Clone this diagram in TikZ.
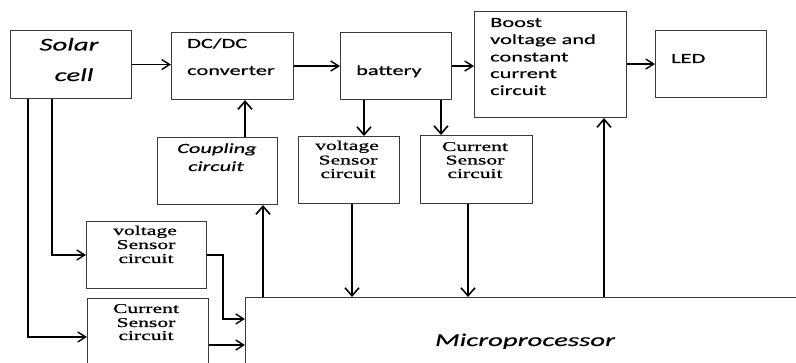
\documentclass[tikz,border=0pt]{standalone}
\usepackage{fontspec}
\usetikzlibrary{arrows.meta}
\newfontfamily\calfont[FakeStretch=1.6,FakeBold=0.4]{Carlito}
\newfontfamily\serfont[FakeStretch=1.6,FakeBold=0.8]{Liberation Serif}
\definecolor{boxc}{HTML}{3A3A3A}
\begin{document}
\begin{tikzpicture}[x=1pt,y=-1pt,
 box/.style={draw=boxc,line width=1.1pt,inner sep=0pt,anchor=north west},
 cal/.style={font=\calfont\fontsize{14}{17}\selectfont,inner sep=0pt},
 calit/.style={font=\calfont\itshape\fontsize{18}{22}\selectfont,inner sep=0pt},
 calits/.style={font=\calfont\itshape\fontsize{14}{17}\selectfont,inner sep=0pt},
 ser/.style={font=\serfont\fontsize{13.5}{14}\selectfont,inner sep=0pt,anchor=base},
 harr/.style={line width=1.7pt,-{Straight Barb[length=8pt,width=10pt,line width=1.4pt]}},
 varr/.style={line width=2.3pt,-{Straight Barb[length=8pt,width=14pt,line width=1.6pt]}},
 marr/.style={line width=1.9pt,line join=miter,-{Straight Barb[length=8pt,width=10pt,line width=1.4pt]}}
]
\useasboundingbox (0,0) rectangle (796,363);
\clip (0,0) rectangle (796,363);
\fill[white] (0,0) rectangle (796,363);
% boxes
\node[box,minimum width=121pt,minimum height=68pt] (solar) at (10,30) {};
\node[box,minimum width=122pt,minimum height=67pt] (dc) at (171,32) {};
\node[box,minimum width=111pt,minimum height=67pt] (bat) at (340,32) {};
\node[box,minimum width=152pt,minimum height=106pt] (boost) at (474,11) {};
\node[box,minimum width=111pt,minimum height=67pt] (led) at (655,30) {};
\node[box,minimum width=120pt,minimum height=67pt] (coup) at (157,137) {};
\node[box,minimum width=101pt,minimum height=67pt] (vs2) at (298,136) {};
\node[box,minimum width=112pt,minimum height=68pt] (cs2) at (420,135) {};
\node[box,minimum width=120pt,minimum height=67pt] (vs1) at (86,221) {};
\node[box,minimum width=121pt,minimum height=102pt] (cs1) at (87,298) {};
\node[box,minimum width=580pt,minimum height=120pt] (micro) at (245,297) {};
% texts
\node[calit,anchor=base] (tsolar) at (69,50.5) {Solar};
\node[calit,anchor=base] (tcell) at (74,81) {cell};
\node[cal,anchor=base west] (tdc1) at (187,48) {DC/DC};
\node[cal,anchor=base west] (tdc2) at (187,75) {converter};
\node[cal,anchor=base west] (tbat) at (356,75) {battery};
\node[cal,anchor=base west] (tb1) at (490,27) {Boost};
\node[cal,anchor=base west] (tb2) at (490,44) {voltage and};
\node[cal,anchor=base west] (tb3) at (490,61.5) {constant};
\node[cal,anchor=base west] (tb4) at (490,78) {current};
\node[cal,anchor=base west] (tb5) at (490,95) {circuit};
\node[cal,anchor=base west] (tled) at (671,63) {LED};
\node[calits,anchor=base] (tc1) at (217,153) {Coupling};
\node[calits,anchor=base] (tc2) at (216,171) {circuit};
\node[ser] (tv21) at (347,150) {voltage};
\node[ser] (tv22) at (348,164.5) {Sensor};
\node[ser] (tv23) at (348,178) {circuit};
\node[ser] (tc21) at (475,151) {Current};
\node[ser] (tc22) at (475,164.5) {Sensor};
\node[ser] (tc23) at (475,178) {circuit};
\node[ser] (tv11) at (145,235) {voltage};
\node[ser] (tv12) at (146,249) {Sensor};
\node[ser] (tv13) at (146,263) {circuit};
\node[ser] (tc11) at (146,313) {Current};
\node[ser] (tc12) at (146,327) {Sensor};
\node[ser] (tc13) at (146,340) {circuit};
\node[calit,anchor=base] (tmicro) at (525,346) {Microprocessor};
% helper coordinates
\coordinate (k28) at (28,0);
\coordinate (k52) at (52,0);
\coordinate (k223) at (223,0);
\coordinate (k245) at (245,0);
\coordinate (k263) at (263,0);
\coordinate (k352) at (352,0);
\coordinate (k364) at (364,0);
\coordinate (k441) at (441,0);
\coordinate (k468) at (468,0);
\coordinate (k604) at (604,0);
\coordinate (r255) at (0,255);
\coordinate (r319) at (0,319);
\coordinate (r337) at (0,337);
\coordinate (r345) at (0,345);
% connectors
\draw[harr] (solar.east) -- (solar.east -| dc.west);
\draw[harr] (dc.east) -- (dc.east -| bat.west);
\draw[harr] (bat.east) -- (bat.east -| boost.west);
\draw[harr] (boost.east |- led.west) -- (led.west);
\draw[varr] (k364 |- bat.south) -- (k364 |- vs2.north);
\draw[varr] (k441 |- bat.south) -- (k441 |- cs2.north);
\draw[varr] (k245 |- coup.north) -- (k245 |- dc.south);
\draw[varr] (k263 |- micro.north) -- (k263 |- coup.south);
\draw[varr] (k352 |- vs2.south) -- (k352 |- micro.north);
\draw[varr] (k468 |- cs2.south) -- (k468 |- micro.north);
\draw[varr] (k604 |- micro.north) -- (k604 |- boost.south);
\draw[marr] (k28 |- solar.south) -- (k28 |- r337) -- (cs1.west |- r337);
\draw[marr] (k52 |- solar.south) -- (k52 |- r255) -- (vs1.west |- r255);
\draw[marr] (vs1.east |- r255) -- (k223 |- r255) -- (k223 |- r319) -- (micro.west |- r319);
\draw[harr] (cs1.east |- r345) -- (micro.west |- r345);
\end{tikzpicture}
\end{document}
